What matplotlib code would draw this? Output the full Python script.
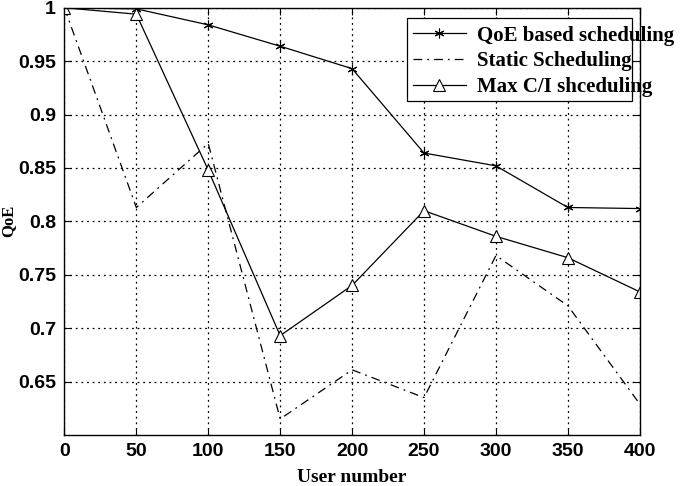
import matplotlib
matplotlib.use("Agg")
import matplotlib.pyplot as plt
from matplotlib.patches import Rectangle

# user numbers
users = [0, 50, 100, 150, 200, 250, 300, 350, 400]

# QoE per scheme
qoe_based = [1.0, 0.999, 0.984, 0.964, 0.943, 0.864, 0.852, 0.813, 0.812]
static_sched = [1.0, 0.813, 0.873, 0.615, 0.661, 0.635, 0.768, 0.721, 0.629]
max_ci = [1.0, 0.994, 0.848, 0.693, 0.740, 0.810, 0.786, 0.766, 0.734]

series_labels = ["QoE based scheduling", "Static Scheduling", "Max C/I shceduling"]
x_ticks = [0, 50, 100, 150, 200, 250, 300, 350, 400]
y_ticks = [0.65, 0.7, 0.75, 0.8, 0.85, 0.9, 0.95, 1.0]
y_tick_labels = ["0.65", "0.7", "0.75", "0.8", "0.85", "0.9", "0.95", "1"]

fig = plt.figure(figsize=(6.85, 4.86), dpi=100)
ax = fig.add_axes([0.094, 0.105, 0.84, 0.879])

ax.plot(users, qoe_based, "k-", linewidth=0.9, marker=(6, 2, 0), markersize=7,
        markeredgewidth=0.8, label=series_labels[0])
ax.plot(users, static_sched, color="k", linestyle=(0, (7, 4, 1.5, 4)),
        linewidth=0.9, label=series_labels[1])
ax.plot(users, max_ci, "k-", linewidth=0.9, marker="^", markersize=8,
        markerfacecolor="white", markeredgewidth=0.8, label=series_labels[2])

ax.set_xlim(0, 400)
ax.set_ylim(0.6, 1.0)
ax.set_xticks(x_ticks)
ax.set_yticks(y_ticks)
ax.set_yticklabels(y_tick_labels)

for lab in ax.get_xticklabels() + ax.get_yticklabels():
    lab.set_fontfamily("Liberation Sans")
    lab.set_fontweight("bold")
    lab.set_fontsize(14)

ax.tick_params(direction="in", top=True, right=True, length=5, width=0.8, pad=6)
ax.grid(True, color="k", linestyle=(0, (1.5, 3)), linewidth=0.9)
for sp in ax.spines.values():
    sp.set_linewidth(1.0)

ax.set_xlabel("User number", family="Liberation Serif", weight="bold", fontsize=14)
ax.xaxis.set_label_coords(0.5, -0.079)
ax.set_ylabel("QoE", family="Liberation Serif", weight="bold", fontsize=12)
ax.yaxis.set_label_coords(-0.083, 0.5)

# legend box (narrower than the text, as in the original)
ax.add_patch(Rectangle((0.5955, 0.782), 0.3905, 0.1946, transform=ax.transAxes,
                       facecolor="white", edgecolor="k", linewidth=0.9, zorder=4.5))
leg = ax.legend(loc="upper left", bbox_to_anchor=(0.605, 0.958), borderaxespad=0,
                prop=dict(family="Liberation Serif", weight="bold", size=15),
                frameon=False, handlelength=2.55, labelspacing=0.27, borderpad=0,
                handletextpad=0.55)
leg.set_zorder(5)

fig.savefig("out.png", dpi=100)
